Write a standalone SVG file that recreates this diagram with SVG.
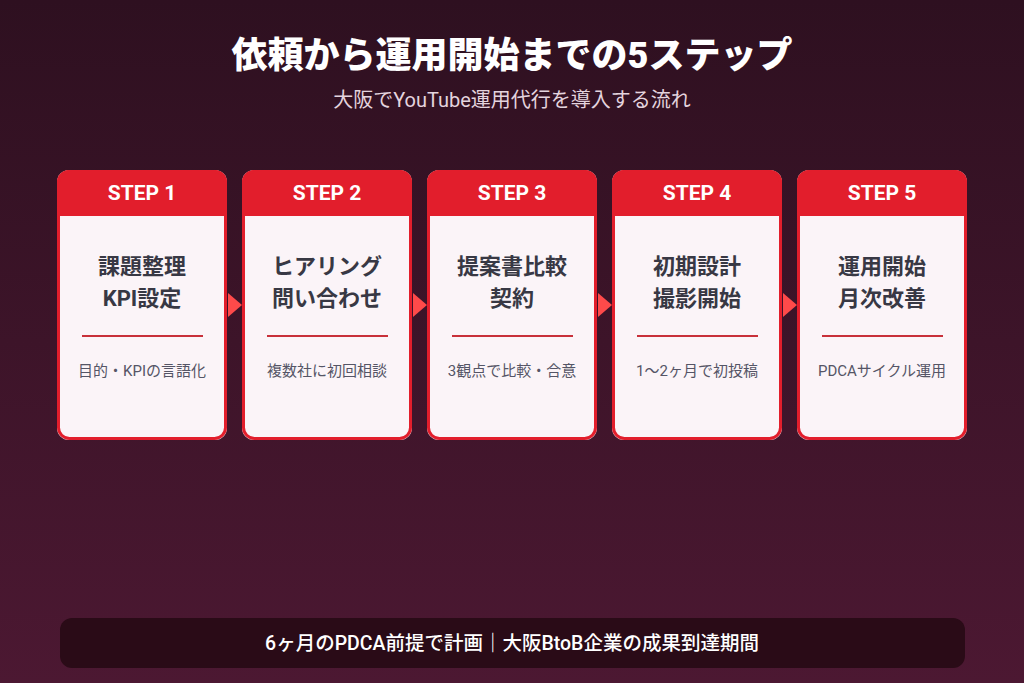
<svg xmlns="http://www.w3.org/2000/svg" width="1024" height="683" viewBox="0 0 1024 683">
<defs>
<linearGradient id="bg" x1="0" y1="0" x2="0" y2="1">
<stop offset="0" stop-color="#2e1020"/>
<stop offset="1" stop-color="#4c1832"/>
</linearGradient>
<clipPath id="cc"><rect x="0" y="0" width="170" height="270" rx="12"/></clipPath>
</defs>
<style>
text{font-family:Roboto,"Noto Sans CJK JP","Noto Sans",sans-serif;text-anchor:middle}
.t{font-size:36px;font-weight:900;fill:#fff}
.st{font-size:20px;fill:#e4d4de}
.card{fill:#fbf4f8}
.border{fill:none;stroke:#e21e2c;stroke-width:3}
.hd{fill:#e21e2c}
.sh{font-size:21px;font-weight:700;fill:#fff}
.nm{font-size:22px;font-weight:700;fill:#383844}
.dv{stroke:#c8303a;stroke-width:2}
.ds{font-size:15px;fill:#555566}
.arr{fill:#ff4a4a}
.ft{font-size:19.5px;font-weight:500;fill:#fff}
</style>
<rect width="1024" height="683" fill="url(#bg)"/>
<text class="t" x="512" y="68">依頼から運用開始までの5ステップ</text>
<text class="st" x="512" y="107">大阪でYouTube運用代行を導入する流れ</text>
<g id="connectors">
<polygon class="arr" points="228,293 242,305 228,317"/>
<polygon class="arr" points="413,293 427,305 413,317"/>
<polygon class="arr" points="598,293 612,305 598,317"/>
<polygon class="arr" points="783,293 797,305 783,317"/>
</g>
<g id="step1" transform="translate(57,170)">
<rect class="card" width="170" height="270" rx="12"/>
<rect class="hd" width="170" height="46" clip-path="url(#cc)"/>
<rect class="border" x="1.5" y="1.5" width="167" height="267" rx="11"/>
<text class="sh" x="85" y="30">STEP 1</text>
<text class="nm" x="85" y="104">課題整理</text>
<text class="nm" x="85" y="136">KPI設定</text>
<line class="dv" x1="25" y1="166" x2="146" y2="166"/>
<text class="ds" x="85" y="206">目的・KPIの言語化</text>
</g>
<g id="step2" transform="translate(242,170)">
<rect class="card" width="170" height="270" rx="12"/>
<rect class="hd" width="170" height="46" clip-path="url(#cc)"/>
<rect class="border" x="1.5" y="1.5" width="167" height="267" rx="11"/>
<text class="sh" x="85" y="30">STEP 2</text>
<text class="nm" x="85" y="104">ヒアリング</text>
<text class="nm" x="85" y="136">問い合わせ</text>
<line class="dv" x1="25" y1="166" x2="146" y2="166"/>
<text class="ds" x="85" y="206">複数社に初回相談</text>
</g>
<g id="step3" transform="translate(427,170)">
<rect class="card" width="170" height="270" rx="12"/>
<rect class="hd" width="170" height="46" clip-path="url(#cc)"/>
<rect class="border" x="1.5" y="1.5" width="167" height="267" rx="11"/>
<text class="sh" x="85" y="30">STEP 3</text>
<text class="nm" x="85" y="104">提案書比較</text>
<text class="nm" x="85" y="136">契約</text>
<line class="dv" x1="25" y1="166" x2="146" y2="166"/>
<text class="ds" x="85" y="206">3観点で比較・合意</text>
</g>
<g id="step4" transform="translate(612,170)">
<rect class="card" width="170" height="270" rx="12"/>
<rect class="hd" width="170" height="46" clip-path="url(#cc)"/>
<rect class="border" x="1.5" y="1.5" width="167" height="267" rx="11"/>
<text class="sh" x="85" y="30">STEP 4</text>
<text class="nm" x="85" y="104">初期設計</text>
<text class="nm" x="85" y="136">撮影開始</text>
<line class="dv" x1="25" y1="166" x2="146" y2="166"/>
<text class="ds" x="85" y="206">1〜2ヶ月で初投稿</text>
</g>
<g id="step5" transform="translate(797,170)">
<rect class="card" width="170" height="270" rx="12"/>
<rect class="hd" width="170" height="46" clip-path="url(#cc)"/>
<rect class="border" x="1.5" y="1.5" width="167" height="267" rx="11"/>
<text class="sh" x="85" y="30">STEP 5</text>
<text class="nm" x="85" y="104">運用開始</text>
<text class="nm" x="85" y="136">月次改善</text>
<line class="dv" x1="25" y1="166" x2="146" y2="166"/>
<text class="ds" x="85" y="206">PDCAサイクル運用</text>
</g>
<g id="footer">
<rect x="60" y="618" width="905" height="50" rx="12" fill="#2a0b17"/>
<text class="ft" x="512" y="650">6ヶ月のPDCA前提で計画｜大阪BtoB企業の成果到達期間</text>
</g>
</svg>
